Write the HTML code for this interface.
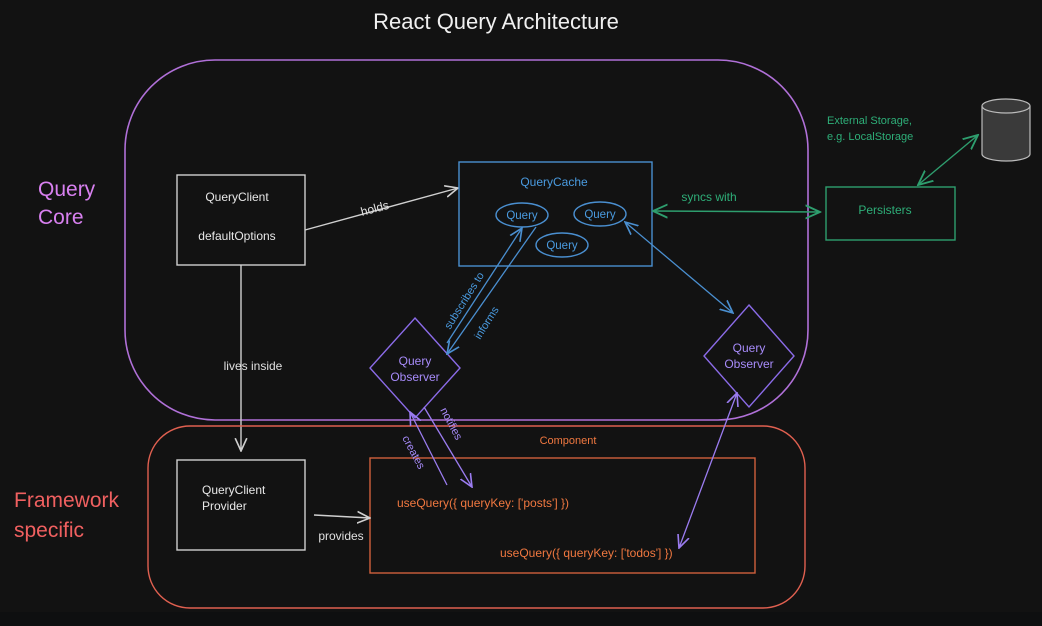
<!DOCTYPE html>
<html><head><meta charset="utf-8"><style>
html,body{margin:0;padding:0;background:#121212;}
svg{display:block;}
text{font-family:"Liberation Sans",sans-serif;}
</style></head><body>
<svg width="1042" height="626" viewBox="0 0 1042 626" xmlns="http://www.w3.org/2000/svg">
<defs>
<marker id="a" viewBox="0 0 12 12" refX="11" refY="6" markerWidth="12" markerHeight="12" markerUnits="userSpaceOnUse" orient="auto-start-reverse"><path d="M0,1 L11,6 L0,11" fill="none" stroke="context-stroke" stroke-width="1.4"/></marker>
<marker id="w" viewBox="0 0 12 12" refX="11" refY="6" markerWidth="14" markerHeight="14" markerUnits="userSpaceOnUse" orient="auto-start-reverse"><path d="M0,1 L11,6 L0,11" fill="none" stroke="#d0d0d0" stroke-width="1.4"/></marker>
<marker id="b" viewBox="0 0 12 12" refX="11" refY="6" markerWidth="14" markerHeight="14" markerUnits="userSpaceOnUse" orient="auto-start-reverse"><path d="M0,1 L11,6 L0,11" fill="none" stroke="#4a8fd0" stroke-width="1.4"/></marker>
<marker id="g" viewBox="0 0 12 12" refX="11" refY="6" markerWidth="16" markerHeight="16" markerUnits="userSpaceOnUse" orient="auto-start-reverse"><path d="M0,1 L11,6 L0,11" fill="none" stroke="#2e9e6e" stroke-width="1.4"/></marker>
<marker id="p" viewBox="0 0 12 12" refX="11" refY="6" markerWidth="14" markerHeight="14" markerUnits="userSpaceOnUse" orient="auto-start-reverse"><path d="M0,1 L11,6 L0,11" fill="none" stroke="#9b7cf0" stroke-width="1.4"/></marker>
</defs>
<rect x="0" y="0" width="1042" height="626" fill="#121212"/>
<rect x="0" y="612" width="1042" height="14" fill="#0e0f10"/>
<text x="496" y="29" fill="#f0f0f0" font-size="22" text-anchor="middle">React Query Architecture</text>

<!-- core container -->
<rect x="125" y="60" width="683" height="360" rx="90" fill="none" stroke="#b070d8" stroke-width="1.6"/>
<text x="38" y="196" fill="#d880f0" font-size="21">Query</text>
<text x="38" y="224" fill="#d880f0" font-size="21">Core</text>

<rect x="177" y="175" width="128" height="90" fill="none" stroke="#d0d0d0" stroke-width="1.4"/>
<text x="237" y="201" fill="#e8e8e8" font-size="12" text-anchor="middle">QueryClient</text>
<text x="237" y="240" fill="#e8e8e8" font-size="12" text-anchor="middle">defaultOptions</text>

<line x1="305" y1="230" x2="458" y2="188" stroke="#d0d0d0" stroke-width="1.4" marker-end="url(#w)"/>
<text x="362" y="216" fill="#e0e0e0" font-size="12" transform="rotate(-15 362 216)">holds</text>

<rect x="459" y="162" width="193" height="104" fill="none" stroke="#4a8fd0" stroke-width="1.4"/>
<text x="554" y="186" fill="#4a9be0" font-size="12" text-anchor="middle">QueryCache</text>
<ellipse cx="522" cy="215" rx="26" ry="12" fill="none" stroke="#4a8fd0" stroke-width="1.4"/>
<text x="522" y="219" fill="#4a9be0" font-size="11.5" text-anchor="middle">Query</text>
<ellipse cx="600" cy="214" rx="26" ry="12" fill="none" stroke="#4a8fd0" stroke-width="1.4"/>
<text x="600" y="218" fill="#4a9be0" font-size="11.5" text-anchor="middle">Query</text>
<ellipse cx="562" cy="245" rx="26" ry="12" fill="none" stroke="#4a8fd0" stroke-width="1.4"/>
<text x="562" y="249" fill="#4a9be0" font-size="11.5" text-anchor="middle">Query</text>

<line x1="653" y1="211" x2="820" y2="212" stroke="#2e9e6e" stroke-width="1.5" marker-start="url(#g)" marker-end="url(#g)"/>
<text x="709" y="201" fill="#2eae78" font-size="12" text-anchor="middle">syncs with</text>
<rect x="826" y="187" width="129" height="53" fill="none" stroke="#2e9e6e" stroke-width="1.4"/>
<text x="885" y="214" fill="#2eae78" font-size="12" text-anchor="middle">Persisters</text>
<text x="827" y="124" fill="#2eae78" font-size="11">External Storage,</text>
<text x="827" y="140" fill="#2eae78" font-size="11">e.g. LocalStorage</text>
<line x1="918" y1="185" x2="978" y2="135" stroke="#2e9e6e" stroke-width="1.4" marker-start="url(#g)" marker-end="url(#g)"/>
<path d="M982,106 L982,154 A24,7 0 0 0 1030,154 L1030,106" fill="#3a3a3a" stroke="#bbb" stroke-width="1.2"/>
<ellipse cx="1006" cy="106" rx="24" ry="7" fill="#3a3a3a" stroke="#bbb" stroke-width="1.2"/>

<!-- observers -->
<polygon points="415,318 460,368 415,418 370,368" fill="none" stroke="#8b6be8" stroke-width="1.4"/>
<text x="415" y="365" fill="#a78bfa" font-size="12" text-anchor="middle">Query</text>
<text x="415" y="381" fill="#a78bfa" font-size="12" text-anchor="middle">Observer</text>
<polygon points="749,305 794,356 749,407 704,356" fill="none" stroke="#8b6be8" stroke-width="1.4"/>
<text x="749" y="352" fill="#a78bfa" font-size="12" text-anchor="middle">Query</text>
<text x="749" y="368" fill="#a78bfa" font-size="12" text-anchor="middle">Observer</text>

<line x1="447" y1="343" x2="522" y2="228" stroke="#4a8fd0" stroke-width="1.3" marker-end="url(#b)"/>
<line x1="536" y1="227" x2="447" y2="354" stroke="#4a8fd0" stroke-width="1.3" marker-end="url(#b)"/>
<text x="450" y="330" fill="#4a9be0" font-size="11" transform="rotate(-58 450 330)">subscribes to</text>
<text x="480" y="340" fill="#4a9be0" font-size="11" transform="rotate(-58 480 340)">informs</text>
<line x1="625" y1="222" x2="733" y2="313" stroke="#4a8fd0" stroke-width="1.3" marker-start="url(#b)" marker-end="url(#b)"/>

<!-- lives inside -->
<line x1="241" y1="265" x2="241" y2="451" stroke="#d0d0d0" stroke-width="1.4" marker-end="url(#w)"/>
<text x="253" y="370" fill="#e0e0e0" font-size="12" text-anchor="middle">lives inside</text>

<!-- framework -->
<rect x="148" y="426" width="657" height="182" rx="42" fill="none" stroke="#e06050" stroke-width="1.4"/>
<text x="14" y="507" fill="#f06060" font-size="21">Framework</text>
<text x="14" y="537" fill="#f06060" font-size="21">specific</text>
<text x="568" y="444" fill="#f07840" font-size="11" text-anchor="middle">Component</text>
<rect x="370" y="458" width="385" height="115" fill="none" stroke="#d0603c" stroke-width="1.4"/>
<text x="397" y="507" fill="#f07840" font-size="12">useQuery({ queryKey: ['posts'] })</text>
<text x="500" y="557" fill="#f07840" font-size="12">useQuery({ queryKey: ['todos'] })</text>

<rect x="177" y="460" width="128" height="90" fill="none" stroke="#d0d0d0" stroke-width="1.4"/>
<text x="202" y="494" fill="#e8e8e8" font-size="12">QueryClient</text>
<text x="202" y="510" fill="#e8e8e8" font-size="12">Provider</text>
<line x1="314" y1="515" x2="370" y2="518" stroke="#d0d0d0" stroke-width="1.4" marker-end="url(#w)"/>
<text x="341" y="540" fill="#e0e0e0" font-size="12" text-anchor="middle">provides</text>

<line x1="447" y1="485" x2="410" y2="412" stroke="#9b7cf0" stroke-width="1.3" marker-end="url(#p)"/>
<line x1="424" y1="407" x2="472" y2="487" stroke="#9b7cf0" stroke-width="1.3" marker-end="url(#p)"/>
<text x="402" y="438" fill="#a78bfa" font-size="11" transform="rotate(62 402 438)">creates</text>
<text x="440" y="410" fill="#a78bfa" font-size="11" transform="rotate(62 440 410)">notifies</text>
<line x1="737" y1="393" x2="679" y2="548" stroke="#9b7cf0" stroke-width="1.3" marker-start="url(#p)" marker-end="url(#p)"/>
</svg>
</body></html>
